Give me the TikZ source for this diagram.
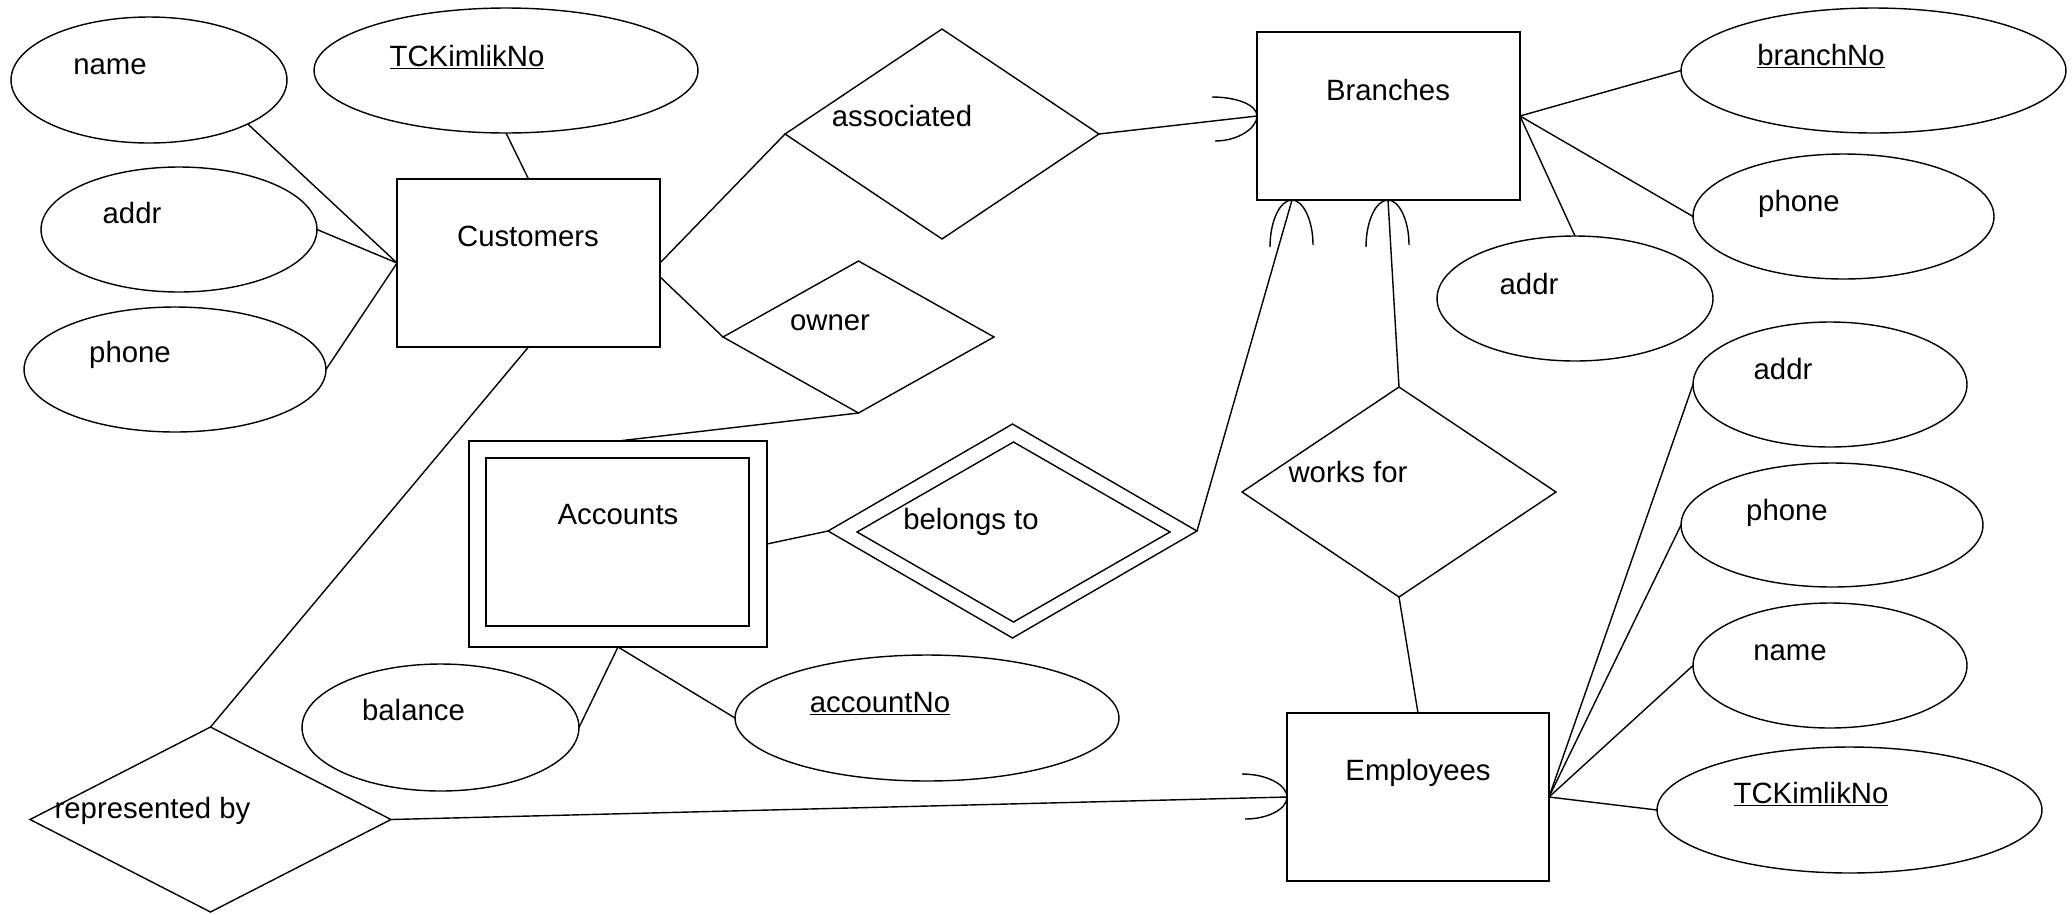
\documentclass[tikz,border=0pt]{standalone}
\usepackage{fontspec}
\setmainfont{Liberation Sans}
\usetikzlibrary{shapes.geometric}

\begin{document}
\begin{tikzpicture}[
  x=0.02cm,
  y=-0.02cm,
  line width=0.8pt,
  every node/.style={font=\fontsize{16.7}{20}\selectfont},
  entity/.style={draw, rectangle, inner sep=0pt, outer sep=0pt,
                 minimum width=5.26cm, minimum height=3.36cm},
  attr/.style 2 args={draw, ellipse, inner sep=0pt, outer sep=0pt,
                      minimum width=#1, minimum height=#2},
  rel/.style 2 args={draw, diamond, inner sep=0pt, outer sep=0pt,
                     minimum width=#1, minimum height=#2},
  lbl/.style={anchor=base, inner sep=0pt}
]
  \useasboundingbox (0,0) rectangle (2072,914);

  % ---- entity sets --------------------------------------------------------
  \node[entity] (cust) at (528.5,263) {};
  \node[entity] (branch) at (1388.5,116) {};
  \node[entity, minimum width=5.24cm] (emp) at (1418,797) {};
  \node[entity, minimum width=5.96cm, minimum height=4.12cm] (acc) at (618,544) {};
  \node[entity] (accin) at (617.5,542) {};
  \node[lbl] (cust-t) at (528,246) {Customers};
  \node[lbl] (branch-t) at (1388,100) {Branches};
  \node[lbl] (emp-t) at (1418,780) {Employees};
  \node[lbl] (acc-t) at (618,524) {Accounts};

  % ---- relationships ------------------------------------------------------
  \node[rel={6.28cm}{4.2cm}] (assoc) at (942,134) {};
  \node[rel={5.42cm}{3.04cm}] (owner) at (858.5,337) {};
  \node[rel={6.28cm}{4.2cm}] (works) at (1399,492) {};
  \node[rel={7.22cm}{3.7cm}] (rep) at (210.5,819.5) {};
  \node[rel={7.38cm}{4.28cm}] (belongs) at (1012.5,531) {};
  \node[rel={6.26cm}{3.6cm}] (belongsin) at (1013.5,532) {};
  \node[lbl] (assoc-t) at (902,126) {associated};
  \node[lbl] (owner-t) at (830,330) {owner};
  \node[lbl] (works-t) at (1348,482) {works for};
  \node[lbl] (rep-t) at (152.5,818) {represented by};
  \node[lbl] (belongs-t) at (971,529) {belongs to};

  % ---- attributes of Customers --------------------------------------------
  \node[attr={5.52cm}{2.52cm}] (cname) at (149,80) {};
  \node[attr={7.68cm}{2.5cm}] (ctc) at (506,70.5) {};
  \node[attr={5.52cm}{2.5cm}] (caddr) at (179,229.5) {};
  \node[attr={6.04cm}{2.5cm}] (cphone) at (175,369.5) {};
  \node[lbl] (cname-t) at (110,74) {name};
  \node[lbl] (ctc-t) at (467,66) {\underline{TCKimlikNo}};
  \node[lbl] (caddr-t) at (132,223) {addr};
  \node[lbl] (cphone-t) at (130,362) {phone};

  % ---- attributes of Branches ---------------------------------------------
  \node[attr={7.7cm}{2.5cm}] (bno) at (1873.5,70.5) {};
  \node[attr={6.02cm}{2.5cm}] (bphone) at (1843.5,216.5) {};
  \node[attr={5.52cm}{2.5cm}] (baddr) at (1575,298.5) {};
  \node[lbl] (bno-t) at (1821,65) {\underline{branchNo}};
  \node[lbl] (bphone-t) at (1799,211) {phone};
  \node[lbl] (baddr-t) at (1529,294) {addr};

  % ---- attributes of Employees --------------------------------------------
  \node[attr={5.48cm}{2.5cm}] (eaddr) at (1830,384.5) {};
  \node[attr={6.04cm}{2.48cm}] (ephone) at (1832,525) {};
  \node[attr={5.48cm}{2.5cm}] (ename) at (1830,665.5) {};
  \node[attr={7.7cm}{2.52cm}] (etc) at (1849.5,810) {};
  \node[lbl] (eaddr-t) at (1783,379) {addr};
  \node[lbl] (ephone-t) at (1787,520) {phone};
  \node[lbl] (ename-t) at (1790,660) {name};
  \node[lbl] (etc-t) at (1811,803) {\underline{TCKimlikNo}};

  % ---- attributes of Accounts ---------------------------------------------
  \node[attr={5.54cm}{2.54cm}] (balance) at (440.5,727.5) {};
  \node[attr={7.68cm}{2.52cm}] (accno) at (927,718) {};
  \node[lbl] (balance-t) at (413.5,720) {balance};
  \node[lbl] (accno-t) at (880,712) {\underline{accountNo}};

  % ---- attribute links ----------------------------------------------------
  \draw (cname.-24) -- (cust.west);
  \draw (caddr.east) -- (cust.west);
  \draw (cphone.east) -- (cust.west);
  \draw (ctc.south) -- (cust.north);
  \draw (branch.east) -- (bno.west);
  \draw (branch.east) -- (bphone.west);
  \draw (branch.east) -- (baddr.north);
  \foreach \a in {eaddr, ephone, ename, etc}
    \draw (emp.east) -- (\a.west);
  \draw (acc.south) -- (balance.east);
  \draw (acc.south) -- (accno.west);

  % ---- relationship links -------------------------------------------------
  \coordinate (b1) at (1292,200);
  \coordinate (b2) at (1388,200);
  \draw (cust.east) -- (assoc.west);
  \draw (assoc.east) -- (branch.west);
  \draw (cust.-6) -- (owner.west);
  \draw (owner.south) -- (acc.north);
  \draw (acc.east) -- (belongs.west);
  \draw (belongs.east) -- (b1);
  \draw (works.north) -- (b2);
  \draw (works.south) -- (emp.north);
  \draw (cust.south) -- (rep.north);
  \draw (rep.east) -- (emp.west);

  % ---- many-side arcs -----------------------------------------------------
  \draw (branch.west) ++(-45,-19) .. controls +(25,0) and +(0,-11) .. (branch.west)
    .. controls +(0,12) and +(23,0) .. ++(-42,25);
  \draw (emp.west) ++(-45,-23) .. controls +(25,0) and +(0,-12) .. (emp.west)
    .. controls +(0,12) and +(23,0) .. ++(-42,22);
  \foreach \c in {b1, b2}
    \draw (\c) ++(-22,47) .. controls +(0,-26) and +(-12,0) .. (\c)
      .. controls +(11,0) and +(0,-25) .. ++(21,45);
\end{tikzpicture}
\end{document}
